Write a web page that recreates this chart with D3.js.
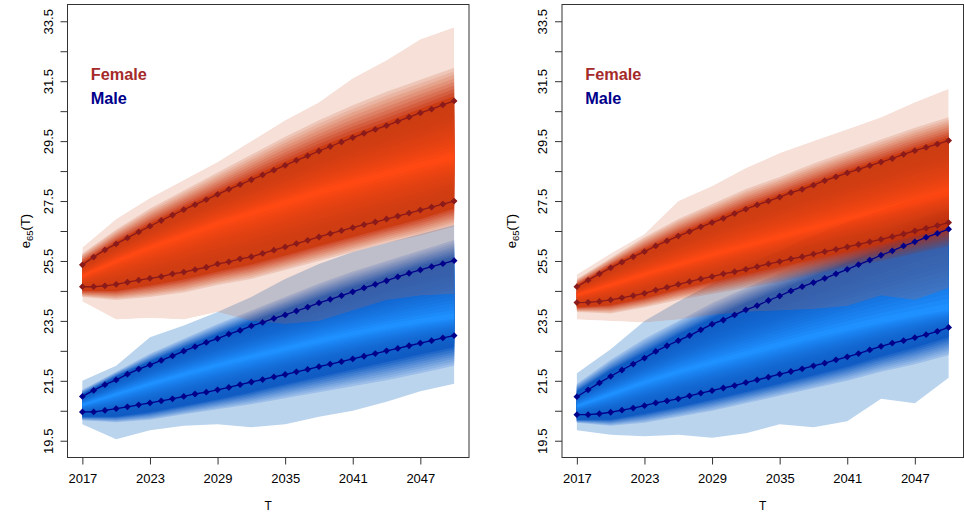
<!DOCTYPE html>
<html>
<head>
<meta charset="utf-8">
<script src="https://cdn.jsdelivr.net/npm/d3@7"></script>
<style>
  body { margin: 0; background: #fff; }
  svg { display: block; }
  text { font-family: "Liberation Sans", Arial, Helvetica, sans-serif; }
</style>
</head>
<body>
<div id="chart"></div>
<script>
// years with a marker on each line
const years = [2017, 2018, 2019, 2020, 2021, 2022, 2023, 2024, 2025, 2026, 2027, 2028, 2029, 2030, 2031, 2032, 2033,
  2034, 2035, 2036, 2037, 2038, 2039, 2040, 2041, 2042, 2043, 2044, 2045, 2046, 2047, 2048, 2049, 2050]
const fanYears = [2017, 2020, 2023, 2026, 2029, 2032, 2035, 2038, 2041, 2044, 2047, 2050]

const xTicks = [2017, 2023, 2029, 2035, 2041, 2047]
const yTicks = [19.5, 20.5, 21.5, 22.5, 23.5, 24.5, 25.5, 26.5, 27.5, 28.5, 29.5, 30.5, 31.5, 32.5, 33.5]
const yLabels = [19.5, 21.5, 23.5, 25.5, 27.5, 29.5, 31.5, 33.5]
const legendLabels = ["Female", "Male"]

// ---- left panel : lines
const lfUpper = [25.37, 25.63, 25.87, 26.07, 26.27, 26.47, 26.66, 26.85, 27.03, 27.21, 27.38, 27.55, 27.72, 27.89, 28.05, 28.21, 28.37,
  28.53, 28.69, 28.86, 29.01, 29.17, 29.32, 29.47, 29.62, 29.76, 29.89, 30.02, 30.16, 30.30, 30.44, 30.57, 30.71, 30.84]
const lfLower = [24.64, 24.64, 24.67, 24.72, 24.79, 24.86, 24.92, 24.98, 25.07, 25.13, 25.21, 25.29, 25.40, 25.47, 25.57, 25.64, 25.75,
  25.86, 25.97, 26.08, 26.19, 26.30, 26.41, 26.51, 26.61, 26.71, 26.80, 26.90, 27.00, 27.10, 27.20, 27.30, 27.40, 27.50]
const lmUpper = [20.98, 21.18, 21.37, 21.53, 21.72, 21.89, 22.03, 22.18, 22.33, 22.49, 22.64, 22.78, 22.91, 23.06, 23.18, 23.33, 23.45,
  23.58, 23.70, 23.83, 23.96, 24.10, 24.22, 24.34, 24.47, 24.60, 24.72, 24.84, 24.97, 25.09, 25.20, 25.31, 25.41, 25.51]
const lmLower = [20.46, 20.46, 20.51, 20.57, 20.63, 20.70, 20.76, 20.83, 20.90, 20.98, 21.06, 21.12, 21.20, 21.28, 21.37, 21.46, 21.54,
  21.63, 21.71, 21.80, 21.88, 21.97, 22.06, 22.14, 22.23, 22.32, 22.41, 22.50, 22.58, 22.67, 22.76, 22.84, 22.93, 23.01]

// ---- left panel : fans
const lfMed   = [25.00, 25.50, 25.95, 26.35, 26.75, 27.10, 27.45, 27.80, 28.10, 28.40, 28.70, 28.97]
const lfDkHi  = [25.45, 26.15, 26.75, 27.30, 27.82, 28.32, 28.82, 29.30, 29.75, 30.15, 30.58, 31.00]
const lfDkLo  = [24.50, 24.50, 24.68, 24.88, 25.14, 25.38, 25.68, 26.00, 26.30, 26.60, 26.90, 27.25]
const lfMidHi = [25.75, 26.55, 27.25, 27.85, 28.45, 29.05, 29.65, 30.20, 30.70, 31.15, 31.55, 31.95]
const lfMidLo = [24.30, 24.20, 24.30, 24.45, 24.70, 24.90, 25.20, 25.50, 25.80, 26.10, 26.35, 26.65]
const lfOutHi = [25.95, 26.90, 27.60, 28.20, 28.80, 29.50, 30.20, 30.80, 31.60, 32.20, 32.90, 33.30]
const lfOutLo = [24.15, 23.55, 23.60, 23.55, 23.80, 23.50, 23.40, 23.50, 23.85, 24.20, 24.35, 24.40]

const lmMed   = [20.70, 21.05, 21.40, 21.72, 22.02, 22.30, 22.57, 22.83, 23.07, 23.29, 23.48, 23.64]
const lmDkHi  = [21.05, 21.65, 22.15, 22.62, 23.06, 23.48, 23.88, 24.28, 24.65, 25.00, 25.35, 25.65]
const lmDkLo  = [20.30, 20.30, 20.45, 20.66, 20.88, 21.12, 21.38, 21.63, 21.88, 22.13, 22.38, 22.62]
const lmMidHi = [21.20, 21.80, 22.40, 22.90, 23.40, 23.85, 24.30, 24.75, 25.15, 25.50, 25.85, 26.20]
const lmMidLo = [20.18, 20.12, 20.20, 20.38, 20.55, 20.72, 20.92, 21.12, 21.32, 21.52, 21.75, 22.00]
const lmOutHi = [21.50, 22.00, 22.95, 23.35, 23.80, 24.30, 24.90, 25.40, 25.80, 26.10, 26.40, 26.70]
const lmOutLo = [20.05, 19.55, 19.85, 20.00, 20.05, 19.95, 20.05, 20.30, 20.50, 20.80, 21.15, 21.40]

// ---- right panel : lines
const rfUpper = [24.64, 24.86, 25.07, 25.27, 25.46, 25.64, 25.81, 26.00, 26.17, 26.33, 26.48, 26.64, 26.78, 26.92, 27.08, 27.23, 27.37,
  27.50, 27.63, 27.78, 27.89, 28.03, 28.18, 28.31, 28.44, 28.56, 28.68, 28.80, 28.92, 29.06, 29.18, 29.29, 29.40, 29.52]
const rfLower = [24.11, 24.12, 24.15, 24.20, 24.27, 24.34, 24.42, 24.53, 24.62, 24.72, 24.81, 24.90, 24.98, 25.07, 25.14, 25.22, 25.31,
  25.40, 25.48, 25.57, 25.64, 25.73, 25.81, 25.89, 25.97, 26.05, 26.14, 26.22, 26.31, 26.40, 26.50, 26.59, 26.68, 26.78]
const rmUpper = [20.97, 21.20, 21.43, 21.65, 21.86, 22.06, 22.26, 22.48, 22.67, 22.84, 23.01, 23.20, 23.39, 23.53, 23.70, 23.87, 24.01,
  24.18, 24.33, 24.50, 24.64, 24.78, 24.92, 25.07, 25.22, 25.38, 25.53, 25.69, 25.84, 26.00, 26.14, 26.29, 26.42, 26.56]
const rmLower = [20.37, 20.37, 20.40, 20.45, 20.52, 20.59, 20.67, 20.76, 20.83, 20.90, 21.00, 21.09, 21.17, 21.26, 21.34, 21.44, 21.53,
  21.62, 21.72, 21.81, 21.90, 22.00, 22.09, 22.20, 22.30, 22.41, 22.53, 22.65, 22.76, 22.84, 22.94, 23.04, 23.15, 23.28]

// ---- right panel : fans
const rfMed   = [24.37, 24.70, 25.05, 25.38, 25.70, 26.00, 26.30, 26.60, 26.90, 27.18, 27.48, 27.77]
const rfDkHi  = [24.70, 25.35, 25.90, 26.42, 26.88, 27.33, 27.73, 28.13, 28.54, 28.90, 29.28, 29.62]
const rfDkLo  = [23.95, 24.02, 24.25, 24.55, 24.80, 25.05, 25.30, 25.55, 25.80, 26.05, 26.33, 26.62]
const rfMidHi = [24.90, 25.60, 26.30, 26.90, 27.40, 27.90, 28.30, 28.75, 29.15, 29.55, 29.95, 30.30]
const rfMidLo = [23.80, 23.75, 23.95, 24.20, 24.40, 24.60, 24.80, 25.05, 25.30, 25.50, 25.75, 26.00]
const rfOutHi = [25.05, 25.75, 26.40, 27.50, 28.00, 28.60, 29.10, 29.50, 29.90, 30.30, 30.80, 31.25]
const rfOutLo = [23.55, 23.50, 23.45, 23.55, 23.70, 23.80, 23.85, 23.90, 24.00, 24.35, 24.20, 24.60]

const rmMed   = [20.65, 21.05, 21.45, 21.80, 22.10, 22.40, 22.70, 22.98, 23.25, 23.50, 23.72, 23.92]
const rmDkHi  = [21.15, 21.85, 22.45, 23.05, 23.60, 24.10, 24.55, 25.00, 25.45, 25.90, 26.35, 26.78]
const rmDkLo  = [20.20, 20.20, 20.40, 20.62, 20.87, 21.13, 21.40, 21.68, 21.97, 22.30, 22.60, 22.95]
const rmMidHi = [21.40, 22.20, 22.90, 23.50, 24.10, 24.60, 25.10, 25.55, 26.00, 26.45, 26.90, 27.30]
const rmMidLo = [20.10, 20.00, 20.10, 20.30, 20.50, 20.75, 21.00, 21.25, 21.50, 21.80, 22.05, 22.35]
const rmOutHi = [21.75, 22.55, 23.50, 24.15, 24.75, 25.35, 25.85, 26.35, 26.80, 27.20, 27.55, 27.85]
const rmOutLo = [19.85, 19.70, 19.65, 19.70, 19.60, 19.75, 20.05, 19.95, 20.15, 20.90, 20.75, 21.60]

// colours (target colour over white)
const femalePal = { outer: [246, 224, 216], mid: [238, 198, 184], dark: [204, 60, 10], center: [255, 72, 0] }
const malePal = { outer: [186, 212, 238], mid: [156, 190, 232], dark: [16, 92, 196], center: [30, 144, 255] }
const femaleLine = "#8B1A1A"
const maleLine = "#00008B"
const legendCols = ["#A52A2A", "#00008B"]

const W = 964, H = 517
const boxTop = 4.5, boxBottom = 457.5
const nThin = 8, nGrad = 18

const svg = d3.select("#chart").append("svg").attr("width", W).attr("height", H)
const defs = svg.append("defs")

function solveFill(t, a) {
  // fill colour that gives t over white at opacity a
  const c = t.map(v => Math.max(0, Math.min(255, Math.round((v - 255 * (1 - a)) / a))))
  return d3.rgb(c[0], c[1], c[2]).toString()
}
function mixCol(a, b, t) {
  return a.map((v, i) => v + (b[i] - v) * t)
}
function blend(a, b, t) {
  return a.map((v, i) => v + (b[i] - v) * t)
}

// nested levels, outside in
function fanLevels(f, pal, female) {
  const levels = []
  levels.push({ lo: f.outLo, hi: f.outHi, col: pal.outer, a: female ? 0.2 : 1 })
  for (let k = 0; k < nThin; k++) {
    const t = k / nThin
    levels.push({
      lo: blend(f.midLo, f.dkLo, t), hi: blend(f.midHi, f.dkHi, t),
      col: mixCol(pal.mid, pal.dark, t), a: female ? 0.3 + 0.6 * t : 1
    })
  }
  for (let j = 0; j < nGrad; j++) {
    const t = j / nGrad
    // dark most of the way, bright only near the median
    const tc = Math.pow((j + 1) / nGrad, 2.2)
    levels.push({
      lo: blend(f.dkLo, f.med, t), hi: blend(f.dkHi, f.med, t),
      col: mixCol(pal.dark, pal.center, tc), a: female ? 0.93 : 1
    })
  }
  return levels
}

const panels = [
  {
    id: "L", x0: 67.5, x1: 469, ylabX: 30,
    female: { med: lfMed, dkHi: lfDkHi, dkLo: lfDkLo, midHi: lfMidHi, midLo: lfMidLo, outHi: lfOutHi, outLo: lfOutLo },
    male: { med: lmMed, dkHi: lmDkHi, dkLo: lmDkLo, midHi: lmMidHi, midLo: lmMidLo, outHi: lmOutHi, outLo: lmOutLo },
    lines: [[lfUpper, femaleLine], [lfLower, femaleLine], [lmUpper, maleLine], [lmLower, maleLine]]
  },
  {
    id: "R", x0: 562, x1: 963.5, ylabX: 516,
    female: { med: rfMed, dkHi: rfDkHi, dkLo: rfDkLo, midHi: rfMidHi, midLo: rfMidLo, outHi: rfOutHi, outLo: rfOutLo },
    male: { med: rmMed, dkHi: rmDkHi, dkLo: rmDkLo, midHi: rmMidHi, midLo: rmMidLo, outHi: rmOutHi, outLo: rmOutLo },
    lines: [[rfUpper, femaleLine], [rfLower, femaleLine], [rmUpper, maleLine], [rmLower, maleLine]]
  }
]

panels.forEach(p => {
  // R style 4% padding around the data range
  const xr = (p.x1 - p.x0) / 1.08
  const x = d3.scaleLinear().domain([2017, 2050]).range([p.x0 + 0.04 * xr, p.x1 - 0.04 * xr])
  const yr = (boxBottom - boxTop) / 1.08
  const y = d3.scaleLinear().domain([19.5, 33.5]).range([boxBottom - 0.04 * yr, boxTop + 0.04 * yr])

  const g = svg.append("g")

  const area = d3.area()
    .x((d, i) => x(fanYears[i]))
    .y0(d => y(d[0]))
    .y1(d => y(d[1]))

  // male fan, opaque
  const gm = g.append("g")
  fanLevels(p.male, malePal, false).forEach(l => {
    gm.append("path")
      .attr("d", area(l.lo.map((v, i) => [v, l.hi[i]])))
      .attr("fill", d3.rgb(...l.col).toString())
  })

  // female fan on top, see-through via a luminance mask
  const mask = defs.append("mask")
    .attr("id", "fmask" + p.id)
    .attr("maskUnits", "userSpaceOnUse")
    .attr("x", 0).attr("y", 0).attr("width", W).attr("height", H)
    .style("color-interpolation", "sRGB")
  const gf = g.append("g").attr("mask", `url(#fmask${p.id})`)
  fanLevels(p.female, femalePal, true).forEach(l => {
    const d = area(l.lo.map((v, i) => [v, l.hi[i]]))
    gf.append("path").attr("d", d).attr("fill", solveFill(l.col, l.a))
    const gv = Math.round(l.a * 255)
    mask.append("path").attr("d", d).attr("fill", `rgb(${gv},${gv},${gv})`)
  })

  // lines with diamond markers
  const line = d3.line().x((d, i) => x(years[i])).y(d => y(d))
  p.lines.forEach(([vals, col]) => {
    g.append("path")
      .attr("d", line(vals))
      .attr("fill", "none")
      .attr("stroke", col)
      .attr("stroke-width", 1.3)
    g.append("g").selectAll("rect")
      .data(vals)
      .join("rect")
      .attr("x", -2.4).attr("y", -2.4)
      .attr("width", 4.8).attr("height", 4.8)
      .attr("transform", (d, i) => `translate(${x(years[i])},${y(d)}) rotate(45)`)
      .attr("fill", col)
  })

  // box
  g.append("rect")
    .attr("x", p.x0).attr("y", boxTop)
    .attr("width", p.x1 - p.x0).attr("height", boxBottom - boxTop)
    .attr("fill", "none").attr("stroke", "#333").attr("stroke-width", 1)

  // x axis
  const gx = g.append("g")
    .attr("transform", `translate(0,${boxBottom})`)
    .call(d3.axisBottom(x).tickValues(xTicks).tickSize(7).tickFormat(d3.format("d")))
  gx.select(".domain").remove()
  gx.selectAll(".tick line").attr("stroke", "#333")
  gx.selectAll("text")
    .attr("y", 25.5).attr("dy", 0)
    .attr("fill", "#000")
    .style("font-size", "13px")
    .style("font-family", "'Liberation Sans', Arial, sans-serif")

  // y axis, rotated labels like R
  const gy = g.append("g")
    .attr("transform", `translate(${p.x0},0)`)
    .call(d3.axisLeft(y).tickValues(yTicks).tickSize(7)
      .tickFormat(d => yLabels.includes(d) ? d3.format(".1f")(d) : ""))
  gy.select(".domain").remove()
  gy.selectAll(".tick line").attr("stroke", "#333")
  gy.selectAll("text")
    .attr("transform", "rotate(-90)")
    .attr("x", 0).attr("y", -15).attr("dy", 0)
    .attr("text-anchor", "middle")
    .attr("fill", "#000")
    .style("font-size", "13px")
    .style("font-family", "'Liberation Sans', Arial, sans-serif")

  // axis titles
  g.append("text")
    .attr("x", (p.x0 + p.x1) / 2).attr("y", 510)
    .attr("text-anchor", "middle")
    .style("font-size", "12px")
    .text("T")

  const yt = g.append("text")
    .attr("transform", `translate(${p.ylabX},${(boxTop + boxBottom) / 2}) rotate(-90)`)
    .attr("text-anchor", "middle")
    .style("font-size", "13px")
  yt.append("tspan").text("e")
  yt.append("tspan").attr("dy", 3).style("font-size", "9.5px").text("65")
  yt.append("tspan").attr("dy", -3).text("(T)")

  // legend
  legendLabels.forEach((lab, i) => {
    g.append("text")
      .attr("x", p.x0 + 23.2).attr("y", 80 + i * 24.3)
      .attr("fill", legendCols[i])
      .style("font-size", "16.3px")
      .style("font-weight", "bold")
      .text(lab)
  })
})
</script>
</body>
</html>
